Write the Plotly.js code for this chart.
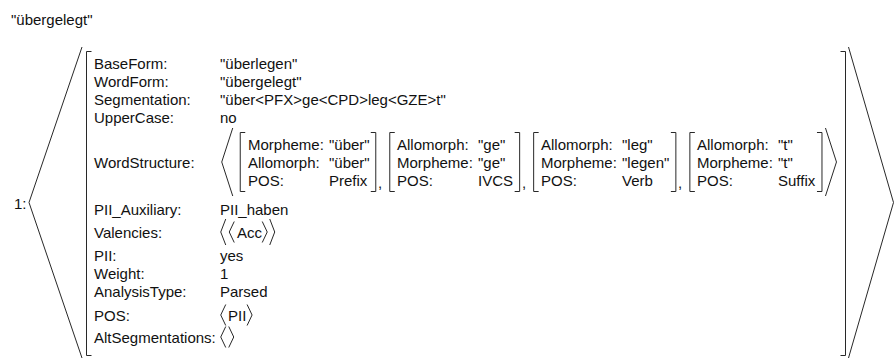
<!DOCTYPE html>
<html><head><meta charset="utf-8">
<script src="https://cdn.plot.ly/plotly-3.0.1.min.js"></script>
<style>html,body{margin:0;padding:0;background:#fff;} #chart{width:894px;height:358px;}</style>
</head><body><div id="chart"></div>
<script>
// ---------------- data ----------------
const entryTitle = '"übergelegt"';
const entryIndex = '1:';
const featureLabels = ['BaseForm:', 'WordForm:', 'Segmentation:', 'UpperCase:', 'WordStructure:', 'PII_Auxiliary:', 'Valencies:', 'PII:', 'Weight:', 'AnalysisType:', 'POS:', 'AltSegmentations:'];
const featureValues = ['"überlegen"', '"übergelegt"', '"über<PFX>ge<CPD>leg<GZE>t"', 'no', null, 'PII_haben', null, 'yes', '1', 'Parsed', null, null];
const morphemeKeys = [
  ['Morpheme:', 'Allomorph:', 'POS:'],
  ['Allomorph:', 'Morpheme:', 'POS:'],
  ['Allomorph:', 'Morpheme:', 'POS:'],
  ['Allomorph:', 'Morpheme:', 'POS:']
];
const morphemeValues = [
  ['"über"', '"über"', 'Prefix'],
  ['"ge"', '"ge"', 'IVCS'],
  ['"leg"', '"legen"', 'Verb'],
  ['"t"', '"t"', 'Suffix']
];
const valencies = [['Acc']];
const posValues = ['PII'];
const altSegmentations = [];

// ---------------- layout / style ----------------
const W = 894, H = 358;
const FONT = '"Liberation Sans", Arial, Helvetica, sans-serif';
const FS = 15;
const INK = '#111';
const LINE = 'rgb(40,40,40)';
const rowY = [63, 81, 99, 117, 162, 209, 232, 255, 273, 291, 315, 337];
const boxRowY = [144, 162, 180];
const labelX = 93;

const ctx = document.createElement('canvas').getContext('2d');
ctx.font = FS + 'px "Liberation Sans"';
const measure = t => ctx.measureText(t).width;
const esc = t => String(t).replace(/&/g, '&amp;').replace(/</g, '&lt;').replace(/>/g, '&gt;');

const annotations = [];
const shapes = [];
function addText(t, x, y) {
  annotations.push({x: x, y: y, xref: 'x', yref: 'y', text: esc(t), showarrow: false,
    xanchor: 'left', yanchor: 'middle', borderpad: 0,
    font: {family: FONT, size: FS, color: INK}});
}
function addPath(p) {
  shapes.push({type: 'path', path: p, xref: 'x', yref: 'y', fillcolor: 'rgba(0,0,0,0)',
    line: {color: LINE, width: 1}});
}
function angle(tipX, openX, y0, y1) {
  addPath('M' + openX + ',' + y0 + 'L' + tipX + ',' + ((y0 + y1) / 2) + 'L' + openX + ',' + y1);
}
function sqLeft(x, y0, y1, s) {
  addPath('M' + (x + s) + ',' + y0 + 'L' + x + ',' + y0 + 'L' + x + ',' + y1 + 'L' + (x + s) + ',' + y1);
}
function sqRight(x, y0, y1, s) {
  addPath('M' + (x - s) + ',' + y0 + 'L' + x + ',' + y0 + 'L' + x + ',' + y1 + 'L' + (x - s) + ',' + y1);
}
function listDepth(v) { return Array.isArray(v) ? 1 + Math.max(0, ...v.map(listDepth)) : 0; }
function drawValue(v, x, y) {
  if (!Array.isArray(v)) { addText(v, x, y); return x + measure(v); }
  const hh = 10.5 + 2.5 * (listDepth(v) - 1);
  angle(x + 2, x + 7, y - hh, y + hh);
  let cx = x + 8.5;
  v.forEach((item, i) => {
    if (i > 0) { addText(',', cx, y); cx += measure(', '); }
    cx = drawValue(item, cx, y);
  });
  cx += 1.5;
  angle(cx + 5, cx, y - hh, y + hh);
  return cx + 6;
}

// title and index
addText(entryTitle, 10, 19);
addText(entryIndex, 13, 203);

// feature rows
const valueX = labelX + Math.max(...featureLabels.map(measure)) + 4;
featureLabels.forEach((lab, i) => addText(lab, labelX, rowY[i]));
featureValues.forEach((v, i) => { if (v !== null) addText(v, valueX, rowY[i]); });
drawValue(valencies, valueX, rowY[6]);
drawValue(posValues, valueX, rowY[10]);
drawValue(altSegmentations, valueX, rowY[11]);

// word structure: sequence of morpheme boxes
const seqTop = 128, seqBot = 196, boxTop = 132.5, boxBot = 191.5;
angle(valueX + 3, valueX + 14, seqTop, seqBot);
let bx = valueX + 21;
morphemeKeys.forEach((keys, b) => {
  const vals = morphemeValues[b];
  const tx = bx + 7;
  const vx = tx + Math.max(...keys.map(measure)) + 5;
  const endX = vx + Math.max(...vals.map(measure));
  const rb = endX + 7;
  sqLeft(bx + 0.5, boxTop, boxBot, 5);
  sqRight(rb + 0.5, boxTop, boxBot, 5);
  keys.forEach((k, r) => addText(k, tx, boxRowY[r]));
  vals.forEach((v, r) => addText(v, vx, boxRowY[r]));
  if (b < morphemeKeys.length - 1) addText(',', rb + 2, boxRowY[2] + 2);
  bx = rb + 14;
});
const seqEnd = bx - 14 + 4;
angle(seqEnd + 11, seqEnd, seqTop, seqBot);

// outer brackets
const outerTop = 51.5, outerBot = 355.5;
sqLeft(86.5, outerTop, outerBot, 5);
const rightX = Math.round(seqEnd + 20) + 0.5;
sqRight(rightX, outerTop, outerBot, 5);
angle(29, 82, 47, 358);
angle(rightX + 48, rightX + 3, 47, 358);

Plotly.newPlot('chart', [{x: [], y: [], type: 'scatter', mode: 'markers', hoverinfo: 'skip', showlegend: false}], {
  width: W, height: H,
  margin: {l: 0, r: 0, t: 0, b: 0, pad: 0},
  paper_bgcolor: '#fff', plot_bgcolor: '#fff',
  xaxis: {range: [0, W], visible: false, fixedrange: true},
  yaxis: {range: [H, 0], visible: false, fixedrange: true},
  showlegend: false,
  annotations: annotations,
  shapes: shapes
}, {staticPlot: true, displayModeBar: false});
</script>
</body></html>
